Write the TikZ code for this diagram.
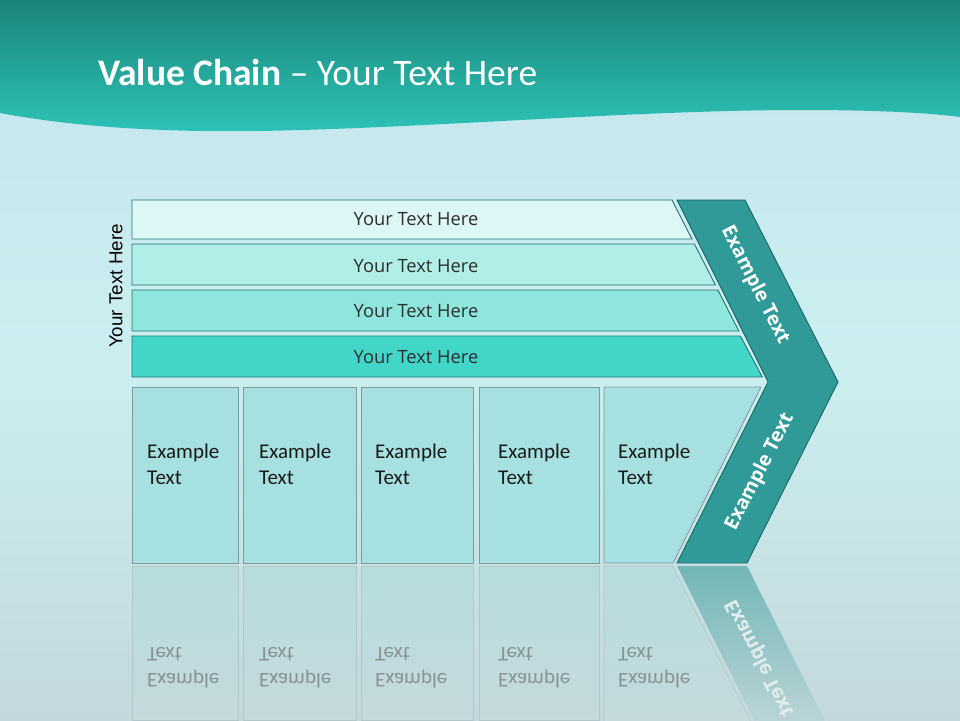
\documentclass[tikz,border=0pt]{standalone}
\usepackage{fontspec}
\setmainfont{Carlito}
\newfontfamily\osans{Open Sans}
\newfontfamily\arialf{Liberation Sans}
\usetikzlibrary{calc}
\definecolor{bgA}{HTML}{C4E4EC}
\definecolor{bgB}{HTML}{CBEFF1}
\definecolor{bgC}{HTML}{C3D8DC}
\definecolor{bandA}{HTML}{1B857A}
\definecolor{bandB}{HTML}{2DC3B7}
\definecolor{barone}{HTML}{DCF7F6}
\definecolor{bartwo}{HTML}{B2EEE8}
\definecolor{barthree}{HTML}{8EE6DD}
\definecolor{barfour}{HTML}{42D6C9}
\definecolor{barline}{HTML}{23756F}
\definecolor{boxfill}{HTML}{A6E0E0}
\definecolor{boxline}{HTML}{7E9A9B}
\definecolor{chev}{HTML}{2F9A98}
\definecolor{chevline}{HTML}{1D6664}
\definecolor{reflbg}{HTML}{C6D9DC}
\tikzset{
  bartext/.style={font=\osans\fontsize{18.3}{22}\selectfont, text=black!82, inner sep=0pt},
  boxtext/.style={font=\fontsize{21}{26}\selectfont, align=left, anchor=north west, inner sep=0pt, text=black!90},
  chevtext/.style={font=\osans\bfseries\fontsize{19.5}{22}\selectfont, text=white, inner sep=0pt},
  barshape/.style={draw=barline, line width=0.9pt},
  boxshape/.style={fill=boxfill, draw=boxline, line width=0.8pt},
  reflbox/.style={top color=boxfill!50!reflbg, bottom color=reflbg, draw=boxline!30!reflbg, line width=0.6pt},
  refltext/.style={font=\fontsize{21}{26}\selectfont, align=left, anchor=north west, inner sep=0pt, text=black!32!reflbg}
}
\begin{document}
\begin{tikzpicture}[x=1pt,y=-1pt]
\useasboundingbox (0,0) rectangle (960,720);
% background
\shade[top color=bgA, bottom color=bgC, middle color=bgB] (0,0) rectangle (960,720);
% top band
\shade[top color=bandA, bottom color=bandB]
  (0,0) -- (960,0) -- (960,117)
  .. controls (930,113) and (880,110) .. (800,110)
  .. controls (650,110) and (450,126) .. (300,130)
  .. controls (180,134) and (80,128) .. (0,113) -- cycle;
\node[anchor=base west, inner sep=0pt, text=white, font=\fontsize{37.5}{44}\selectfont] (title) at (98,85)
  {\textbf{Value Chain} – Your Text Here};
% reflections
\foreach \xa/\xb in {132/238, 243/356, 361/473, 479/599} {
  \shade[reflbox] (\xa,566) rectangle (\xb,720);
}
\shade[reflbox] (604,566) -- (673,566) -- (761,742) -- (604,742) -- cycle;
\shade[top color=chev!55!reflbg, bottom color=reflbg] (677,566) -- (747,566) -- (838,747) -- (768,748) -- cycle;
\begin{scope}[shift={(0,1130)}, yscale=-1, transform shape]
  \node[refltext] (r1) at (147,442) {Example\\Text};
  \node[refltext] (r2) at (259,442) {Example\\Text};
  \node[refltext] (r3) at (375,442) {Example\\Text};
  \node[refltext] (r4) at (498,442) {Example\\Text};
  \node[refltext] (r5) at (618,442) {Example\\Text};
  \node[chevtext, rotate=63, text=white!50!reflbg] (rc) at (760,472) {Example Text};
\end{scope}
% bars
\path[barshape, fill=barone]   (132,200) -- (672,200) -- (691.9,239) -- (132,239) -- cycle;
\path[barshape, fill=bartwo]   (132,244) -- (694.4,244) -- (715.4,285) -- (132,285) -- cycle;
\path[barshape, fill=barthree] (132,290) -- (717.9,290) -- (738.8,331) -- (132,331) -- cycle;
\path[barshape, fill=barfour]  (132,336) -- (740.4,336) -- (762.3,377) -- (132,377) -- cycle;
\node[bartext] (b1) at (416,219.5) {Your Text Here};
\node[bartext] (b2) at (416,266) {Your Text Here};
\node[bartext] (b3) at (416,311.5) {Your Text Here};
\node[bartext] (b4) at (416,357) {Your Text Here};
% chevron
\path[fill=chev, draw=chevline, line width=0.9pt]
  (677,200) -- (745,200) -- (838,382) -- (747,563) -- (677,563) -- (768,382) -- cycle;
\node[chevtext, rotate=-63] (c1) at (755,285) {Example Text};
\node[chevtext, rotate=63] (c2) at (760,472) {Example Text};
% boxes
\path[boxshape] (132,387) rectangle (238,563);
\path[boxshape] (243,387) rectangle (356,563);
\path[boxshape] (361,387) rectangle (473,563);
\path[boxshape] (479,387) rectangle (599,563);
\path[boxshape] (604,387) -- (761,387) -- (673,563) -- (604,563) -- cycle;
\node[boxtext] (t1) at (147,444) {Example\\Text};
\node[boxtext] (t2) at (259,444) {Example\\Text};
\node[boxtext] (t3) at (375,444) {Example\\Text};
\node[boxtext] (t4) at (498,444) {Example\\Text};
\node[boxtext] (t5) at (618,444) {Example\\Text};
% side label
\node[rotate=90, font=\arialf\fontsize{18.8}{22}\selectfont, inner sep=0pt] (side) at (116,286) {Your Text Here};
\end{tikzpicture}
\end{document}
